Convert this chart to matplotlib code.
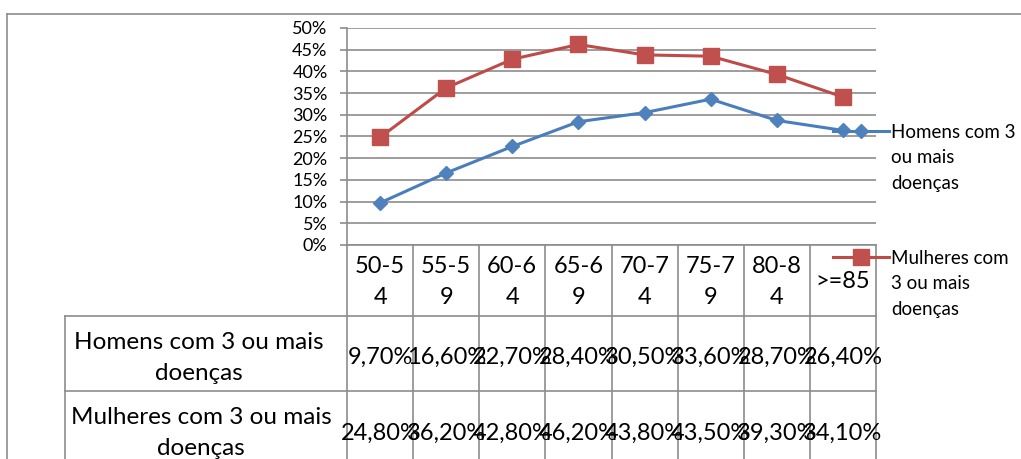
import numpy as np
import matplotlib.pyplot as plt
from matplotlib.lines import Line2D
from matplotlib.ticker import MultipleLocator, PercentFormatter
from matplotlib.transforms import blended_transform_factory

# dados
categorias = ["50-54", "55-59", "60-64", "65-69", "70-74", "75-79", "80-84", ">=85"]
homens = [9.7, 16.6, 22.7, 28.4, 30.5, 33.6, 28.7, 26.4]
mulheres = [24.8, 36.2, 42.8, 46.2, 43.8, 43.5, 39.3, 34.1]
nome_h = "Homens com 3 ou mais doenças"
nome_m = "Mulheres com 3 ou mais doenças"

W, H = 1021, 459


def fx(px):
    return px / W


def fy(py):
    return 1 - py / H


plt.rcParams['font.family'] = ['Lato', 'DejaVu Sans']
cinza = '#8c8c8c'

estilo_h = dict(color='#4a7ebb', lw=2.2, marker='D', ms=7.5,
                mfc='#4f81bd', mec='#4f81bd')
estilo_m = dict(color='#be4b48', lw=2.2, marker='s', ms=11.5,
                mfc='#c0504d', mec='#c0504d')

fig = plt.figure(figsize=(W / 100, H / 100), dpi=100)
ax = fig.add_axes([fx(347), fy(245), fx(876) - fx(347), fy(28) - fy(245)])

x = np.arange(len(categorias))
ax.plot(x, np.array(homens) / 100, **estilo_h)
ax.plot(x, np.array(mulheres) / 100, **estilo_m)

ax.set_xlim(-0.5, len(categorias) - 0.5)
ax.set_ylim(0, 0.5)
ax.yaxis.set_major_locator(MultipleLocator(0.05))
ax.yaxis.set_major_formatter(PercentFormatter(1.0, decimals=0))
ax.grid(axis='y', color=cinza, lw=1.2)
ax.set_axisbelow(True)
for s in ['top', 'right', 'bottom']:
    ax.spines[s].set_visible(False)
ax.spines['left'].set_color(cinza)
ax.spines['left'].set_linewidth(1.2)
ax.tick_params(axis='y', length=5, width=1.2, color=cinza, labelsize=13, pad=9)
ax.tick_params(axis='x', bottom=False, labelbottom=False)

# tabela de dados abaixo do eixo
tr = blended_transform_factory(ax.transData, fig.transFigure)
x_dir = ax.get_position().x1
for b in np.arange(len(categorias) + 1) - 0.5:
    fig.add_artist(Line2D([b, b], [fy(245), 0], transform=tr, color=cinza, lw=1.2))
fig.add_artist(Line2D([-0.5, len(categorias) - 0.5], [fy(245), fy(245)],
                      transform=tr, color=cinza, lw=1.2))
for yy in [316, 391]:
    fig.add_artist(Line2D([fx(65), x_dir], [fy(yy), fy(yy)], color=cinza, lw=1.2))
fig.add_artist(Line2D([fx(65), fx(65)], [fy(316), 0], color=cinza, lw=1.2))

for i, c in enumerate(categorias):
    txt = c if len(c) <= 4 else c[:4] + "\n" + c[4:]
    fig.text(i, fy(282), txt, transform=tr, ha='center', va='center',
             fontsize=17, linespacing=1.6)
    fig.text(i, fy(357), f"{homens[i]:.2f}%".replace('.', ','), transform=tr,
             ha='center', va='center', fontsize=17)
    fig.text(i, fy(433), f"{mulheres[i]:.2f}%".replace('.', ','), transform=tr,
             ha='center', va='center', fontsize=17)

fig.text(fx(199), fy(358), "Homens com 3 ou mais\ndoenças", ha='center',
         va='center', fontsize=17.5, linespacing=1.6)
fig.text(fx(201), fy(433), "Mulheres com 3 ou mais\ndoenças", ha='center',
         va='center', fontsize=17.5, linespacing=1.6)

# legenda à direita
for yl, est, nome in [(131, estilo_h, "Homens com 3\nou mais\ndoenças"),
                      (257, estilo_m, "Mulheres com\n3 ou mais\ndoenças")]:
    fig.add_artist(Line2D([fx(833), fx(889)], [fy(yl), fy(yl)], color=est['color'],
                          lw=est['lw']))
    fig.add_artist(Line2D([fx(861)], [fy(yl)], marker=est['marker'], ms=est['ms'],
                          mfc=est['mfc'], mec=est['mec'], lw=0))
    fig.text(fx(891), fy(yl - 7), nome, ha='left', va='top', fontsize=13.5,
             linespacing=1.6)

# moldura externa
fig.add_artist(Line2D([fx(7), 1], [fy(14), fy(14)], color=cinza, lw=1.2))
fig.add_artist(Line2D([fx(7), fx(7)], [fy(14), 0], color=cinza, lw=1.2))

fig.savefig('out.png', dpi=100)
